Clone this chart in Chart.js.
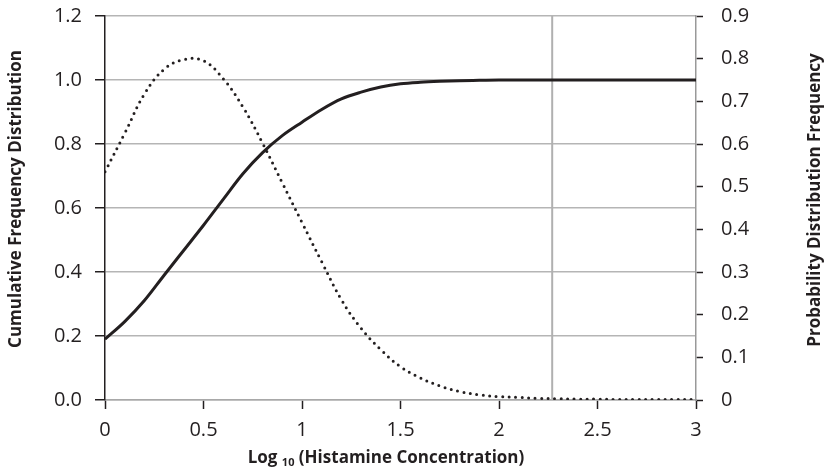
<!DOCTYPE html>
<html>
<head>
<meta charset="utf-8">
<script src="https://cdn.jsdelivr.net/npm/chart.js@4.4.1/dist/chart.umd.min.js"></script>
<style>
  html, body { margin: 0; padding: 0; background: #fff; }
</style>
</head>
<body>
<canvas id="chart" width="830" height="473"></canvas>
<script>
// log10 histamine concentration at 0.1 steps
var logConc = [0, 0.1, 0.2, 0.3, 0.4, 0.5, 0.6, 0.7, 0.8, 0.9,
	1.0, 1.1, 1.2, 1.3, 1.4, 1.5, 1.6, 1.7, 1.8, 1.9,
	2.0, 2.1, 2.2, 2.3, 2.4, 2.5, 2.6, 2.7, 2.8, 2.9, 3.0];

// solid curve, left axis
var cumulative = [0.19, 0.245, 0.311, 0.39, 0.468, 0.546, 0.627, 0.707, 0.773, 0.826,
	0.868, 0.908, 0.941, 0.962, 0.978, 0.988, 0.993, 0.996, 0.998, 0.999,
	1, 1, 1, 1, 1, 1, 1, 1, 1, 1, 1];

// dotted curve, right axis
var probability = [0.535, 0.625, 0.717, 0.775, 0.798, 0.795, 0.753, 0.687, 0.602, 0.509,
	0.416, 0.324, 0.235, 0.168, 0.118, 0.078, 0.052, 0.033, 0.02, 0.012,
	0.008, 0.006, 0.004, 0.003, 0.002, 0.002, 0.001, 0.001, 0.001, 0.001, 0.001];

// grey vertical marker
var cutoff = 2.27;

var leftTitle = "Cumulative Frequency Distribution";
var rightTitle = "Probability Distribution Frequency";
var xTitleMain = "Log";
var xTitleSub = "10";
var xTitleRest = " (Histamine Concentration)";

var ink = "#231f20";
var fontFamily = "'Open Sans', sans-serif";

function points(ys) {
	return logConc.map(function(x, i) { return {x: x, y: ys[i]}; });
}

// fixed axis boxes so the plot area lands where the reference has it
function fixBox(size) {
	return function(s) {
		if (s.isHorizontal()) {
			s.height = size;
		} else {
			s.width = size;
			s.paddingTop = 0;
			s.paddingBottom = 0;
		}
	};
}

var titlePlugin = {
	id: "axisTitles",
	afterDraw: function(chart) {
		var ctx = chart.ctx;
		ctx.save();
		ctx.fillStyle = ink;
		ctx.textBaseline = "middle";
		ctx.textAlign = "center";
		ctx.font = "bold 17px " + fontFamily;

		// left title
		ctx.save();
		ctx.translate(16, 199);
		ctx.rotate(-Math.PI / 2);
		ctx.fillText(leftTitle, 0, 0);
		ctx.restore();

		// right title
		ctx.save();
		ctx.translate(815, 200);
		ctx.rotate(-Math.PI / 2);
		ctx.fillText(rightTitle, 0, 0);
		ctx.restore();

		// x title with subscript
		ctx.textAlign = "left";
		var bigFont = "bold 17px " + fontFamily;
		var subFont = "bold 11px " + fontFamily;
		ctx.font = bigFont;
		var w1 = ctx.measureText(xTitleMain + " ").width;
		var w3 = ctx.measureText(xTitleRest).width;
		ctx.font = subFont;
		var w2 = ctx.measureText(xTitleSub).width;
		var total = w1 + w2 + w3;
		var x0 = 386 - total / 2;
		var y = 458;
		ctx.font = bigFont;
		ctx.fillText(xTitleMain + " ", x0, y);
		ctx.font = subFont;
		ctx.fillText(xTitleSub, x0 + w1, y + 5);
		ctx.font = bigFont;
		ctx.fillText(xTitleRest, x0 + w1 + w2, y);
		ctx.restore();
	}
};

new Chart(document.getElementById("chart"), {
	type: "line",
	data: {
		datasets: [
			{
				data: [{x: cutoff, y: 0}, {x: cutoff, y: 1.2}],
				yAxisID: "y",
				borderColor: "#b0b0b0",
				borderWidth: 2,
				pointRadius: 0,
				order: 3
			},
			{
				data: points(probability),
				yAxisID: "y1",
				borderColor: ink,
				borderWidth: 3,
				borderDash: [0, 6.5],
				borderCapStyle: "round",
				tension: 0.4,
				pointRadius: 0,
				order: 2
			},
			{
				data: points(cumulative),
				yAxisID: "y",
				borderColor: ink,
				borderWidth: 3,
				cubicInterpolationMode: "monotone",
				pointRadius: 0,
				order: 1
			}
		]
	},
	options: {
		responsive: false,
		animation: false,
		devicePixelRatio: 1,
		layout: { padding: { top: 16, left: 0, right: 0, bottom: 0 } },
		plugins: {
			legend: { display: false },
			tooltip: { enabled: false }
		},
		scales: {
			x: {
				type: "linear",
				min: 0,
				max: 3,
				ticks: {
					stepSize: 0.5,
					color: ink,
					padding: 9,
					font: { family: fontFamily, size: 20 },
					callback: function(v) { return String(Number(v.toFixed(1))); }
				},
				grid: {
					drawOnChartArea: false,
					tickLength: 9,
					tickColor: ink,
					tickWidth: 1.5
				},
				border: { color: "#a8a8a8", width: 1.5 },
				afterFit: fixBox(73)
			},
			y: {
				position: "left",
				min: 0,
				max: 1.2,
				ticks: {
					stepSize: 0.2,
					color: ink,
					padding: 13,
					font: { family: fontFamily, size: 20 },
					callback: function(v) { return v.toFixed(1); }
				},
				grid: {
					color: "#b5b5b5",
					lineWidth: 1.5,
					tickLength: 10,
					tickColor: ink,
					tickWidth: 1.5
				},
				border: { color: ink, width: 1.5 },
				afterFit: fixBox(105)
			},
			y1: {
				position: "right",
				min: 0,
				max: 0.9,
				ticks: {
					stepSize: 0.1,
					color: ink,
					padding: 18,
					font: { family: fontFamily, size: 20 },
					callback: function(v) { return v === 0 ? "0" : v.toFixed(1); }
				},
				grid: {
					drawOnChartArea: false,
					tickLength: 7,
					tickColor: ink,
					tickWidth: 1.5
				},
				border: { color: "#999", width: 1.5, dash: [4, 3] },
				afterFit: fixBox(134)
			}
		}
	},
	plugins: [titlePlugin]
});
</script>
</body>
</html>
